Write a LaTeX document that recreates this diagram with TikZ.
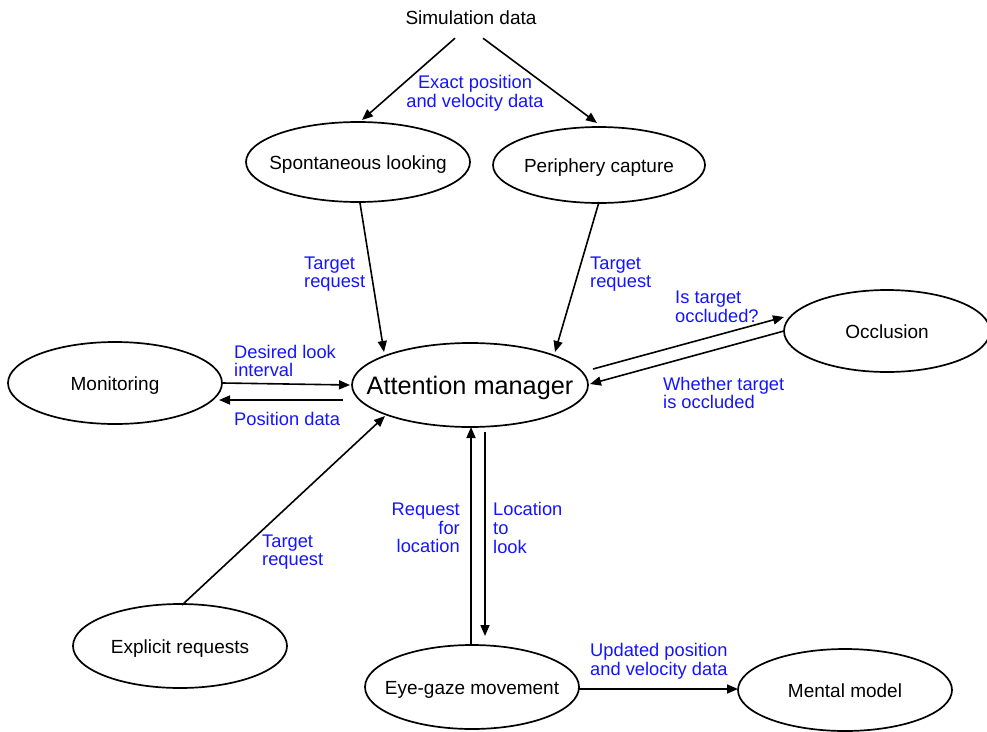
\documentclass[tikz,border=0pt]{standalone}
\usepackage{fontspec}
\setmainfont{Liberation Sans}
\usetikzlibrary{shapes.geometric,arrows.meta,calc}
\definecolor{labelblue}{RGB}{20,20,255}
% zero-width text box so the ellipse keeps its given size
\newcommand\proctext[1]{\makebox[0pt]{#1}}
\begin{document}
\begin{tikzpicture}[x=1pt,y=-1pt,
  proc/.style={draw, ellipse, line width=1.7pt, inner sep=0pt,
    text height=16pt, text depth=2pt,
    font=\fontsize{19}{22}\selectfont},
  lbl/.style={text=labelblue, inner sep=0pt,
    font=\fontsize{18.3}{18.7}\selectfont},
  arr/.style={line width=1.6pt, -{Triangle[length=11pt,width=9pt]}}]
\useasboundingbox (0,0) rectangle (987,731);

% processes
\node[font=\fontsize{19}{22}\selectfont, minimum height=40pt, inner sep=0pt]
  (sim) at (471,18) {Simulation data};
\node[proc, minimum width=224pt, minimum height=80pt] (spont) at (358,162) {\proctext{Spontaneous looking}};
\node[proc, minimum width=212pt, minimum height=76pt] (peri) at (599,165) {\proctext{Periphery capture}};
\node[proc, minimum width=236pt, minimum height=84pt, text height=21pt, text depth=2pt,
  font=\fontsize{25.3}{28}\selectfont] (am) at (470,385) {\proctext{Attention manager}};
\node[proc, minimum width=206pt, minimum height=82pt] (occ) at (887,331) {\proctext{Occlusion}};
\node[proc, minimum width=214pt, minimum height=82pt] (mon) at (115,383) {\proctext{Monitoring}};
\node[proc, minimum width=214pt, minimum height=84pt] (expl) at (180,646) {\proctext{Explicit requests}};
\node[proc, minimum width=214pt, minimum height=84pt] (eye) at (472,687) {\proctext{Eye-gaze movement}};
\node[proc, minimum width=214pt, minimum height=82pt] (mm) at (845,690) {\proctext{Mental model}};

% data flows
\draw[arr] ($(sim.south)+(-16,0)$) -- ($(spont.center)+(4,-42)$);
\draw[arr] ($(sim.south)+(12,0)$) -- ($(peri.center)+(-2,-42)$);
\draw[arr] ($(spont.center)+(2,41)$) -- ($(am.center)+(-86,-33)$);
\draw[arr] ($(peri.center)+(0,37)$) -- ($(am.center)+(85,-33)$);
\draw[arr] ($(mon.center)+(108,0)$) -- ($(am.center)+(-120,0)$);
\draw[arr] ($(am.center)+(-127,15)$) -- ($(mon.center)+(104,17)$);
\draw[arr] ($(am.center)+(123,-16)$) -- ($(occ.center)+(-103,-14)$);
\draw[arr] ($(occ.center)+(-103,0)$) -- ($(am.center)+(120,-1)$);
\draw[arr] ($(expl.center)+(2,-41)$) -- ($(am.center)+(-85,31)$);
\draw[arr] ($(eye.center)+(-1,-42)$) -- ($(am.center)+(1,42)$);
\draw[arr] ($(am.center)+(15,47)$) -- ($(eye.center)+(13,-51)$);
\draw[arr] ($(eye.center)+(107,2)$) -- ($(mm.center)+(-107,-1)$);

% flow labels
\node[lbl, align=center] (lexact) at (475,93) {Exact position\\and velocity data};
\node[lbl, align=left, anchor=west] (lts) at (304,274) {Target\\request};
\node[lbl, align=left, anchor=west] (ltp) at (590,274) {Target\\request};
\node[lbl, align=left, anchor=west] (ldes) at (234,361) {Desired look\\interval};
\node[lbl, align=left, anchor=west] (lpos) at (234,419) {Position data};
\node[lbl, align=left, anchor=west] (lisocc) at (675,307) {Is target\\occluded?};
\node[lbl, align=left, anchor=west] (lwhether) at (663,393) {Whether target\\is occluded};
\node[lbl, align=left, anchor=west] (lte) at (262,552) {Target\\request};
\node[lbl, align=right, anchor=east] (lreq) at (460,528) {Request\\for\\location};
\node[lbl, align=left, anchor=west] (lloc) at (493,528) {Location\\to\\look};
\node[lbl, align=left, anchor=west] (lupd) at (590,661) {Updated position\\and velocity data};
\end{tikzpicture}
\end{document}
